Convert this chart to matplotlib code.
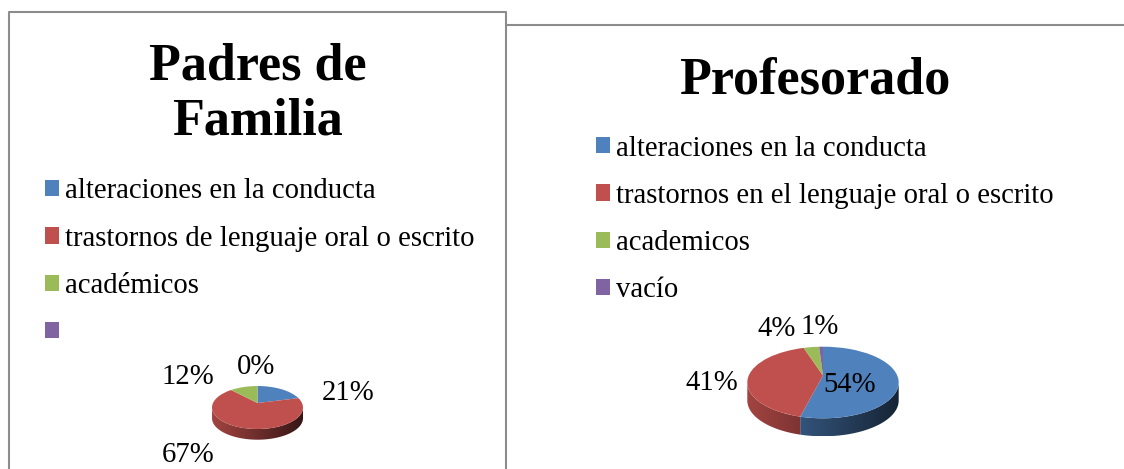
import numpy as np
import matplotlib
matplotlib.use("Agg")
import matplotlib.pyplot as plt
from matplotlib.colors import to_rgb
from matplotlib.patches import Polygon

W, H = 1124, 469
plt.rcParams['font.family'] = ['Liberation Serif', 'DejaVu Serif']

colors = ['#4f81bd', '#c0504d', '#9bbb59', '#8064a2']
title_left = 'Padres de\nFamilia'
title_right = 'Profesorado'
labels_left = ['alteraciones en la conducta', 'trastornos de lenguaje oral o escrito', 'académicos', '']
labels_right = ['alteraciones en la conducta', 'trastornos en el lenguaje oral o escrito', 'academicos', 'vacío']
values_left = [21, 67, 12, 0]
values_right = [54, 41, 4, 1]

fig = plt.figure(figsize=(W / 100, H / 100), dpi=100, facecolor='white')


def tilt(x, y, a):
    """Perspective: keeps the unit circle, moves its centre up to (0, a)."""
    d = 1 + a * y
    return x * np.sqrt(1 - a * a) / d, (y + a) / d


def draw_pie(values, cx, cy, rx, ry, depth, apex):
    low = -1 - depth / ry
    a = apex / ry
    ax = fig.add_axes([(cx - rx) / W, 1 - (cy + ry + depth) / H, 2 * rx / W, (2 * ry + depth) / H])
    wedges, _ = ax.pie(values, colors=colors, startangle=90, counterclock=False, radius=1,
                       wedgeprops={'linewidth': 0})
    for w in wedges:
        path = w.get_path()
        v = path.vertices.copy()
        v[:, 0], v[:, 1] = tilt(v[:, 0], v[:, 1], a)
        path.vertices = v
    # shaded side wall, one gradient strip per visible slice
    edges = np.cumsum([0] + list(values)) / sum(values) * 360
    shade = np.linspace(0.85, 0.28, 256)[None, :, None]
    limit = np.degrees(np.arccos(-a))
    for i, c in enumerate(colors):
        lo, hi = max(edges[i], limit), min(edges[i + 1], 360 - limit)
        if hi <= lo:
            continue
        phi = np.radians(np.linspace(lo, hi, 80))
        x, y = tilt(np.sin(phi), np.cos(phi), a)
        poly = np.r_[np.c_[x, y], np.c_[x[::-1], y[::-1] - depth / ry]]
        img = ax.imshow(np.array(to_rgb(c))[None, None, :] * shade, extent=(-1, 1, low, 1), zorder=0)
        img.set_clip_path(Polygon(poly, transform=ax.transData))
    ax.set_aspect('auto')
    ax.set_xlim(-1, 1)
    ax.set_ylim(low, 1)
    ax.axis('off')
    return wedges


LEG = 20.7


def legend(handles, labels, x, y):
    box = 14 / (LEG * 100 / 72)
    fig.legend(handles, labels, loc='upper left', bbox_to_anchor=(x / W, 1 - y / H),
               frameon=False, fontsize=LEG, handlelength=box, handleheight=box,
               handletextpad=0.21, labelspacing=0.74, borderpad=0, borderaxespad=0)


w_left = draw_pie(values_left, 257.5, 407.5, 45.5, 21.5, 10.7, 4.5)
w_right = draw_pie(values_right, 823, 382.5, 75.7, 35.8, 18, 7)
legend(w_left, labels_left, 45, 178.5)
legend(w_right, labels_right, 596, 135.5)

ov = fig.add_axes([0, 0, 1, 1], facecolor='none')
ov.set_xlim(0, W)
ov.set_ylim(H, 0)
ov.axis('off')
frame = dict(color='#8c8c8c', lw=1.5, solid_capstyle='butt')
ov.plot([9, 9, 506, 506], [H, 12.5, 12.5, H], **frame)
ov.plot([506, W], [25, 25], **frame)

ov.text(257.5, 94, title_left, ha='center', va='center', fontsize=37.5, fontweight='bold', linespacing=1.21)
ov.text(815, 81, title_right, ha='center', va='center', fontsize=37.5, fontweight='bold')

for v, x, y in zip(values_left, [348, 188, 188, 256], [392.5, 455, 377.5, 367.5]):
    ov.text(x, y, f'{v}%', ha='center', va='center', fontsize=LEG)
for v, x, y in zip(values_right, [850, 712, 777, 820], [385.5, 382.5, 328.5, 327.5]):
    ov.text(x, y, f'{v}%', ha='center', va='center', fontsize=LEG)

fig.savefig('out.png', dpi=100)
